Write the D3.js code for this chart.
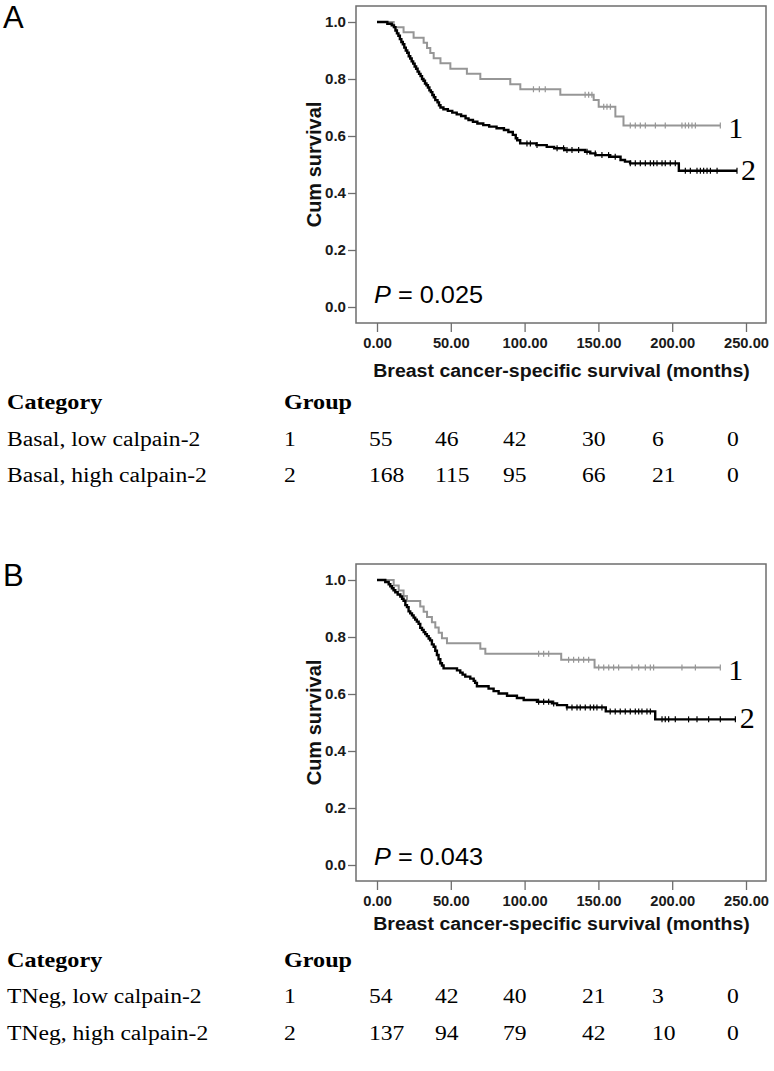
<!DOCTYPE html>
<html><head><meta charset="utf-8">
<script src="https://cdn.jsdelivr.net/npm/d3@7"></script>
<style>body{margin:0;background:#fff}svg{display:block}</style>
</head><body><svg id="c" width="774" height="1071"></svg>
<script>
// ---------- DATA ----------
const months = [0, 50, 100, 150, 200, 250];
const xTickLabels = ["0.00", "50.00", "100.00", "150.00", "200.00", "250.00"];
const yTickValues = [0, 0.2, 0.4, 0.6, 0.8, 1.0];
const yTickLabels = ["0.0", "0.2", "0.4", "0.6", "0.8", "1.0"];
const panelLetters = ["A", "B"];
const pValues = ["0.025", "0.043"];
const groupIds = ["1", "2"];
const xTitle = "Breast cancer-specific survival (months)";
const yTitle = "Cum survival";
const tableHeaders = ["Category", "Group"];
const categoriesA = ["Basal, low calpain-2", "Basal, high calpain-2"];
const categoriesB = ["TNeg, low calpain-2", "TNeg, high calpain-2"];
const atRiskA1 = [55, 46, 42, 30, 6, 0];
const atRiskA2 = [168, 115, 95, 66, 21, 0];
const atRiskB1 = [54, 42, 40, 21, 3, 0];
const atRiskB2 = [137, 94, 79, 42, 10, 0];

// Kaplan-Meier steps [month, cumulative survival]
const kmA1 = [[0,1.000],[11.3,0.982],[18,0.964],[24.8,0.945],[31.6,0.927],[33.9,0.909],[36.1,0.891],[38.4,0.873],[43,0.855],[49.7,0.836],[60.9,0.818],[70,0.800],[90.3,0.782],[97.1,0.764],[124.2,0.745],[146.8,0.726],[150.2,0.703],[161.5,0.668],[167,0.637]];
const endA1 = 232.6;
const censA1 = [106,110,114,141,143.4,145.6,153.6,155.8,158.1,171.6,175,178.4,181.8,188.6,195.3,206.6,208.9,211.1,213.4,215.7,232.6];
const kmA2 = [[0,1.000],[7,0.994],[10,0.988],[11.5,0.982],[12.5,0.970],[13.5,0.960],[14.5,0.952],[15.5,0.940],[16.5,0.930],[17.5,0.922],[18.5,0.910],[19.5,0.900],[20.5,0.892],[21.5,0.880],[22.5,0.872],[23.5,0.862],[24.5,0.854],[25.5,0.844],[26.5,0.836],[27.5,0.826],[28.5,0.818],[29.5,0.810],[30.5,0.800],[31.5,0.794],[32.5,0.784],[33.5,0.778],[34.5,0.770],[35.5,0.760],[36.5,0.754],[37.5,0.744],[38.5,0.736],[39.5,0.726],[41,0.718],[42,0.708],[43,0.700],[45,0.694],[48,0.688],[51,0.682],[54,0.676],[57,0.670],[60,0.662],[62,0.656],[65,0.650],[68,0.644],[72,0.638],[76,0.633],[81,0.627],[86,0.621],[89,0.614],[92,0.604],[94,0.592],[95,0.585],[97,0.574],[108,0.568],[115,0.562],[120,0.557],[127,0.551],[141,0.545],[144.5,0.539],[148,0.533],[158,0.527],[165,0.516],[168,0.510],[171.5,0.504],[204.5,0.478]];
const endA2 = 243.9;
const censA2 = [101.6,103.9,108.4,122,126.4,128.7,132.1,136.6,142.3,147.9,152.4,156.9,161.4,171.6,175,178.4,181.8,185.2,187.4,189.7,193.1,195.3,198.7,202.1,208.9,212.3,216.8,219.1,221.3,223.6,225.9,230.4,243.9];
const kmB1 = [[0,1.000],[11.3,0.981],[14.7,0.963],[18,0.944],[20.3,0.926],[29.3,0.907],[31.6,0.889],[33.9,0.870],[37.2,0.852],[39.5,0.833],[41.8,0.815],[44,0.796],[47.4,0.778],[70,0.759],[73.4,0.741],[124.8,0.720],[147.4,0.693]];
const endB1 = 232.6;
const censB1 = [109.5,112.9,116.3,129.8,133.2,136.6,140,143.4,150.2,153.6,157,160.3,163.7,172.7,177.3,181.8,185.2,187.4,206.6,215.7,232.6];
const kmB2 = [[0,1.000],[5.6,0.993],[7.9,0.985],[9,0.978],[10.1,0.971],[11.2,0.964],[12.4,0.957],[14,0.949],[15.8,0.942],[17,0.934],[18,0.927],[19.2,0.912],[20.3,0.905],[21.4,0.890],[22.5,0.883],[23.7,0.876],[24.8,0.868],[25.9,0.861],[27,0.854],[28.2,0.846],[29.3,0.832],[30.5,0.825],[31.6,0.817],[32.7,0.810],[33.8,0.803],[35,0.795],[36,0.788],[37.2,0.774],[38.4,0.766],[39.5,0.752],[40.6,0.737],[41.7,0.722],[42.9,0.708],[44,0.700],[45.1,0.690],[54.2,0.683],[56.4,0.675],[58,0.668],[59.8,0.661],[63.2,0.654],[65.5,0.646],[66.5,0.639],[67.7,0.627],[75.6,0.619],[79,0.610],[82.4,0.602],[88.1,0.594],[94.8,0.586],[99.4,0.579],[108.4,0.573],[118.5,0.567],[122,0.561],[128.7,0.553],[155,0.539],[188.5,0.511]];
const endB2 = 243;
const censB2 = [109.5,112.9,116.3,119.7,128.7,132.1,135.5,137.7,141.1,144.5,146.8,149,152.4,158,161.4,164.8,168.2,171.6,175,177.3,179.5,182.9,185.2,193.1,195.3,197.6,202.1,211.1,216.8,224.7,232.6,242.8];

// ---------- LAYOUT ----------
const SANS = "'Liberation Sans', Arial, sans-serif";
const SERIF = "'Liberation Serif', 'Times New Roman', serif";
const frame = {left: 356, right: 766, top: 6, bottom: 323};
const plotY = {one: 22, zero: 307};
const tableCols = [369, 435, 503, 582, 652, 727];
const catX = 7, groupX = 284;

const panels = [
  {letter: panelLetters[0], p: pValues[0], top: 0,
   series: [{km: kmA1, end: endA1, cens: censA1, color: "#969696", w: 2},
            {km: kmA2, end: endA2, cens: censA2, color: "#000", w: 2.4}],
   categories: categoriesA, risk: [atRiskA1, atRiskA2],
   titleY: 377, pY: 303, tableY: [409, 446, 482], letterY: 28},
  {letter: panelLetters[1], p: pValues[1], top: 558,
   series: [{km: kmB1, end: endB1, cens: censB1, color: "#969696", w: 2},
            {km: kmB2, end: endB2, cens: censB2, color: "#000", w: 2.4}],
   categories: categoriesB, risk: [atRiskB1, atRiskB2],
   titleY: 930, pY: 865, tableY: [967, 1003, 1040], letterY: 586}
];

const svg = d3.select("#c");
const x = d3.scaleLinear().domain([0, 250]).range([377, 746]);

function stretch(sel, f) {
  sel.each(function () {
    const w = this.getComputedTextLength();
    d3.select(this).attr("textLength", w * f).attr("lengthAdjust", "spacingAndGlyphs");
  });
}
function survAt(km, t) {
  let s = km[0][1];
  for (const [tt, ss] of km) if (tt <= t) s = ss;
  return s;
}

panels.forEach(P => {
  const g = svg.append("g");
  const y = d3.scaleLinear().domain([0, 1]).range([plotY.zero + P.top, plotY.one + P.top]);

  // panel letter
  g.append("text").attr("x", 3).attr("y", P.letterY)
    .attr("font-family", SANS).attr("font-size", 31).attr("fill", "#000").text(P.letter);

  // frame
  g.append("rect").attr("x", frame.left).attr("y", frame.top + P.top)
    .attr("width", frame.right - frame.left).attr("height", frame.bottom - frame.top)
    .attr("fill", "none").attr("stroke", "#6e6e6e").attr("stroke-width", 1.5);

  // x axis
  const xa = g.append("g").attr("transform", `translate(0,${frame.bottom + P.top})`)
    .call(d3.axisBottom(x).tickValues(months).tickFormat((d, i) => xTickLabels[i]).tickSize(9).tickPadding(6.3));
  xa.select(".domain").remove();
  xa.selectAll("line").attr("stroke", "#6e6e6e").attr("stroke-width", 1.3);
  xa.selectAll("text").attr("font-family", SANS).attr("font-size", 14).attr("font-weight", "bold").attr("fill", "#1a1a1a");
  stretch(xa.selectAll("text"), 1.05);

  // y axis
  const ya = g.append("g").attr("transform", `translate(${frame.left},0)`)
    .call(d3.axisLeft(y).tickValues(yTickValues).tickFormat((d, i) => yTickLabels[i]).tickSize(8).tickPadding(2));
  ya.select(".domain").remove();
  ya.selectAll("line").attr("stroke", "#6e6e6e").attr("stroke-width", 1.3);
  ya.selectAll("text").attr("font-family", SANS).attr("font-size", 14).attr("font-weight", "bold").attr("fill", "#1a1a1a");
  stretch(ya.selectAll("text"), 1.08);

  // axis titles
  const xt = g.append("text").attr("x", (x(0) + x(250)) / 2).attr("y", P.titleY)
    .attr("text-anchor", "middle").attr("font-family", SANS).attr("font-size", 18)
    .attr("font-weight", "bold").attr("fill", "#111").text(xTitle);
  stretch(xt, 1.085);
  g.append("text")
    .attr("transform", `translate(321,${(y(0) + y(1)) / 2}) rotate(-90)`)
    .attr("text-anchor", "middle").attr("font-family", SANS).attr("font-size", 20)
    .attr("font-weight", "bold").attr("fill", "#111").text(yTitle);

  // curves
  const line = d3.line().x(d => x(d[0])).y(d => y(d[1])).curve(d3.curveStepAfter);
  P.series.forEach((s, i) => {
    const last = s.km[s.km.length - 1][1];
    g.append("path").datum(s.km.concat([[s.end, last]]))
      .attr("d", line).attr("fill", "none").attr("stroke", s.color)
      .attr("stroke-width", s.w).attr("stroke-linejoin", "miter");
    g.selectAll(null).data(s.cens).join("line")
      .attr("x1", d => x(d)).attr("x2", d => x(d))
      .attr("y1", d => y(survAt(s.km, d)) - 3).attr("y2", d => y(survAt(s.km, d)) + 3)
      .attr("stroke", s.color).attr("stroke-width", 1.2);
    g.append("text").attr("x", x(s.end) + (i === 0 ? 8 : 4)).attr("y", y(last) + (i === 0 ? 12.5 : 9))
      .attr("font-family", SERIF).attr("font-size", 30).attr("fill", "#000").text(groupIds[i]);
  });

  // P value
  const pt = g.append("text").attr("x", 374).attr("y", P.pY)
    .attr("font-family", SANS).attr("font-size", 23).attr("fill", "#000");
  pt.append("tspan").attr("font-style", "italic").text("P");
  pt.append("tspan").text(" = " + P.p);
  stretch(pt, 1.1);

  // table
  const hdr = g.selectAll(null).data(tableHeaders).join("text")
    .attr("x", (d, i) => i === 0 ? catX : groupX).attr("y", P.tableY[0])
    .attr("font-family", SERIF).attr("font-size", 21).attr("font-weight", "bold").attr("fill", "#000")
    .text(d => d);
  stretch(hdr, 1.15);
  P.categories.forEach((c, r) => {
    const yy = P.tableY[r + 1];
    const cells = [{x: catX, t: c}, {x: groupX, t: groupIds[r]}]
      .concat(P.risk[r].map((v, k) => ({x: tableCols[k], t: String(v)})));
    const tx = g.selectAll(null).data(cells).join("text")
      .attr("x", d => d.x).attr("y", yy)
      .attr("font-family", SERIF).attr("font-size", 20).attr("fill", "#000").text(d => d.t);
    stretch(tx, 1.18);
  });
});
</script></body></html>
